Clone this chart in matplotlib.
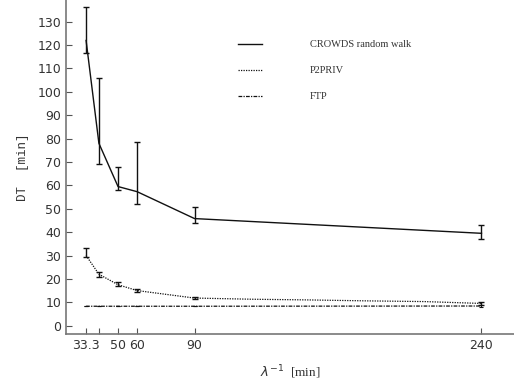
import matplotlib
matplotlib.use("Agg")
import matplotlib.pyplot as plt
import numpy as np

x = [33.3, 40, 50, 60, 90, 240]
xtick_pos = [33.3, 40, 50, 60, 90, 240]
xtick_labels = ["33.3", "", "50", "60", "90", "240"]

crowds = [122, 78, 59.5, 57.3, 45.8, 39.5]
crowds_lo = [116.8, 69.2, 58.0, 52.0, 43.8, 37.0]
crowds_hi = [136.4, 105.8, 68.0, 78.7, 50.9, 43.0]

p2priv_x = [33.3, 40, 50, 60, 90, 120, 150, 180, 210, 240]
p2priv = [30.0, 22.0, 17.5, 15.0, 11.8, 11.3, 11.0, 10.6, 10.3, 9.5]
p2priv_err_x = [33.3, 40, 50, 60, 90, 240]
p2priv_e = [30.0, 22.0, 17.5, 15.0, 11.8, 9.5]
p2priv_lo = [29.4, 21.0, 16.8, 14.4, 11.4, 9.0]
p2priv_hi = [33.4, 23.1, 18.5, 15.8, 12.3, 10.2]

ftp = [8.3, 8.3, 8.3, 8.3, 8.3, 8.4]
ftp_lo = [8.2, 8.2, 8.2, 8.2, 8.2, 8.0]
ftp_hi = [8.4, 8.4, 8.4, 8.4, 8.4, 8.9]

labels = ["CROWDS random walk", "P2PRIV", "FTP"]

fig = plt.figure(figsize=(5.14, 3.83), dpi=100)
ax = fig.add_axes([66/514, 48.7/383, 1 - 66/514, 1 - 48.7/383])

c = np.array(crowds)
l1, = ax.plot(x, crowds, color="#111111", lw=1.0, ls="-")
ax.errorbar(x, crowds, yerr=[c - np.array(crowds_lo), np.array(crowds_hi) - c],
            fmt="none", ecolor="#111111", elinewidth=1.0, capsize=2.5, capthick=1.0)

p = np.array(p2priv_e)
l2, = ax.plot(p2priv_x, p2priv, color="#111111", lw=0.9, ls=(0, (1, 1)))
ax.errorbar(p2priv_err_x, p2priv_e, yerr=[p - np.array(p2priv_lo), np.array(p2priv_hi) - p],
            fmt="none", ecolor="#111111", elinewidth=1.0, capsize=2, capthick=1.0)

f = np.array(ftp)
l3, = ax.plot(x, ftp, color="#111111", lw=0.9, ls=(0, (3, 1, 1, 1)))
ax.errorbar(x, ftp, yerr=[f - np.array(ftp_lo), np.array(ftp_hi) - f],
            fmt="none", ecolor="#111111", elinewidth=0.8, capsize=1.5, capthick=0.8)

ax.set_xlim(22.8, 257)
ax.set_ylim(-3.7, 139.3)
ax.set_xticks(xtick_pos)
ax.set_xticklabels(xtick_labels)
ax.set_yticks(np.arange(0, 131, 10))

for s in ["top", "right"]:
    ax.spines[s].set_visible(False)
for s in ["left", "bottom"]:
    ax.spines[s].set_color("#777777")
    ax.spines[s].set_linewidth(1.2)
ax.tick_params(direction="in", length=4, width=0.8, color="#555555",
               labelcolor="#333333", labelsize=9)

ax.set_ylabel("DT  [min]", family="Liberation Mono", fontsize=9, color="#333333", labelpad=6)
ax.set_xlabel(r"$\lambda^{-1}$  [min]", family="Liberation Serif", fontsize=9.5,
              color="#333333", labelpad=8)

leg = ax.legend([l1, l2, l3], labels, loc="upper left",
                bbox_to_anchor=(238/514, 1 - 40/383), bbox_transform=fig.transFigure,
                frameon=False, borderpad=0, borderaxespad=0,
                handlelength=2.3, handletextpad=4.6, labelspacing=1.6,
                prop={"family": "Liberation Serif", "size": 7.5})
for t in leg.get_texts():
    t.set_color("#333333")

fig.savefig("out.png", dpi=100)
